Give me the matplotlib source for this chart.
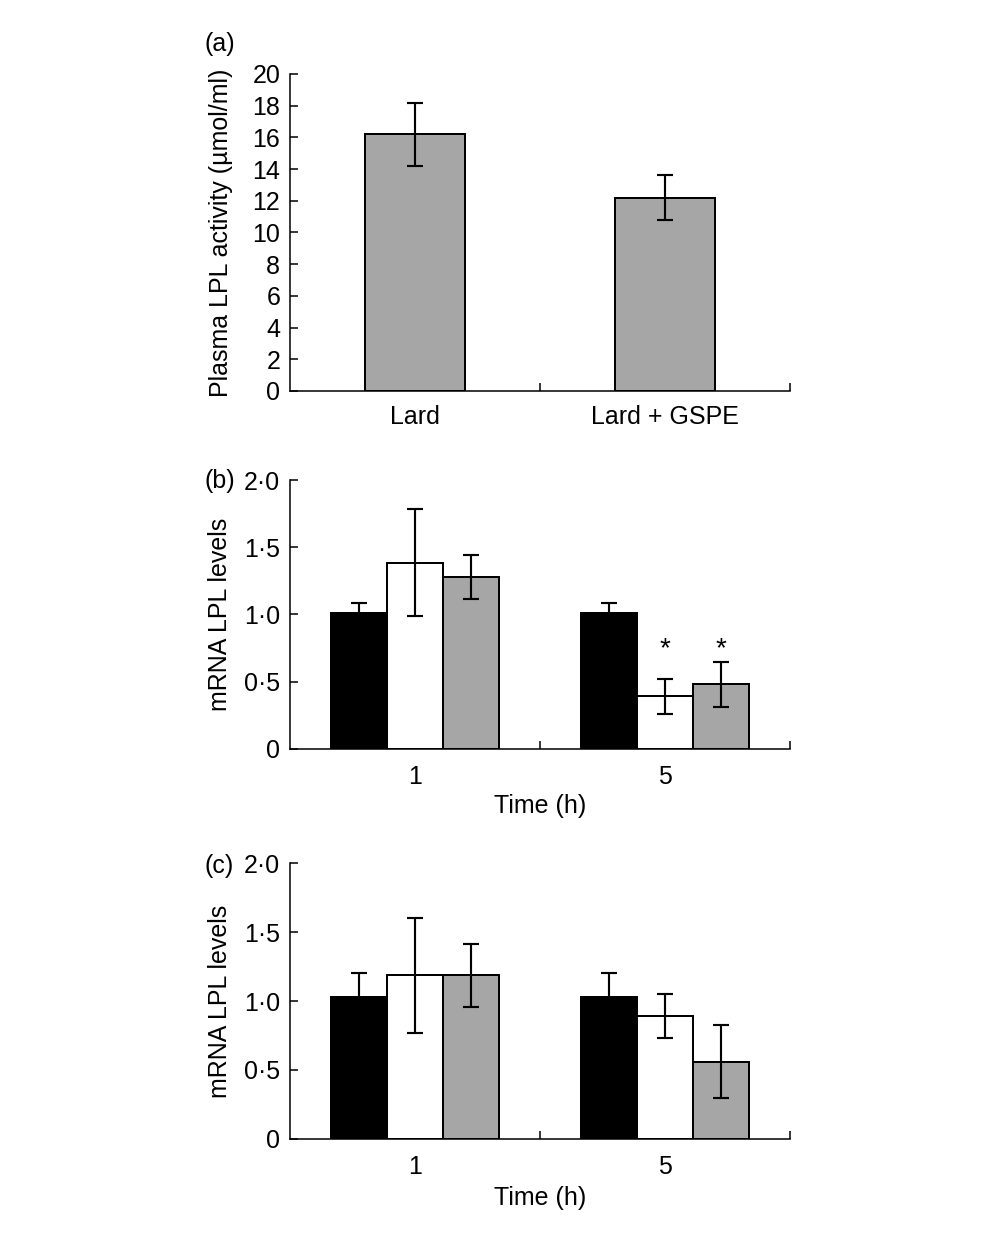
import matplotlib
matplotlib.use("Agg")
import matplotlib.pyplot as plt
import numpy as np

plt.rcParams['font.family'] = ['Liberation Sans', 'DejaVu Sans']

# Panel (a)
a_categories = ["Lard", "Lard + GSPE"]
a_values = [16.2, 12.2]
a_errors = [2.0, 1.4]
a_yticks = [0, 2, 4, 6, 8, 10, 12, 14, 16, 18, 20]

# Panels (b) and (c)
times = ["1", "5"]
mrna_yticks = [0, 0.5, 1.0, 1.5, 2.0]
mrna_yticklabels = ["0", "0·5", "1·0", "1·5", "2·0"]

b_black = [1.01, 1.01]
b_black_err = [0.075, 0.075]
b_white = [1.385, 0.39]
b_white_err = [0.40, 0.13]
b_gray = [1.28, 0.48]
b_gray_err = [0.165, 0.167]

c_black = [1.027, 1.027]
c_black_err = [0.176, 0.176]
c_white = [1.186, 0.889]
c_white_err = [0.42, 0.16]
c_gray = [1.186, 0.559]
c_gray_err = [0.23, 0.265]

FS = 18
LW = 1.1
GRAY = "#a6a6a6"

fig = plt.figure(figsize=(10, 12.37), dpi=100)
fig.patch.set_facecolor((1, 1, 1, 0))
W, H = 1000, 1237


def style_axes(ax):
    for s in ("top", "right"):
        ax.spines[s].set_visible(False)
    for s in ("left", "bottom"):
        ax.spines[s].set_linewidth(LW)
    ax.patch.set_alpha(0)
    ax.tick_params(axis="y", direction="in", length=6, width=LW, labelsize=FS, pad=7)
    ax.set_xlim(-0.5, 1.5)
    ax.set_xticks([0.5, 1.5])
    ax.set_xticklabels([])
    ax.tick_params(axis="x", direction="in", length=6, width=LW)
    return dict(elinewidth=LW * 1.4, capthick=LW * 1.4)


# ---------- (a)
axa = fig.add_axes([290 / W, 1 - 391 / H, 500 / W, 317 / H])
ekw = style_axes(axa)
xa = np.arange(len(a_categories))
axa.bar(xa, a_values, width=0.4, color=GRAY, edgecolor="black", linewidth=LW * 1.3,
        yerr=a_errors, capsize=5.5, error_kw=ekw, zorder=2)
axa.set_ylim(0, 20)
axa.set_yticks(a_yticks)
axa.set_yticklabels([str(t) for t in a_yticks])
for xi, lab in zip(xa, a_categories):
    axa.text(xi, -0.045, lab, transform=axa.get_xaxis_transform(), ha="center", va="top", fontsize=FS)
axa.set_ylabel("Plasma LPL activity (µmol/ml)", fontsize=FS)
axa.yaxis.set_label_coords((233 - 290) / 500, 0.5)
fig.text(205 / W, 1 - 44 / H, "(a)", fontsize=FS, ha="left", va="center")


def mrna_panel(rect, black, black_err, white, white_err, gray, gray_err, label, label_y, stars=None):
    ax = fig.add_axes(rect)
    ekw = style_axes(ax)
    x = np.arange(len(times))
    w = 0.224
    ax.bar(x - w, black, width=w, color="black", edgecolor="black", linewidth=LW * 1.3,
           yerr=black_err, capsize=5.5, error_kw=ekw, zorder=2)
    ax.bar(x, white, width=w, color="white", edgecolor="black", linewidth=LW * 1.3,
           yerr=white_err, capsize=5.5, error_kw=ekw, zorder=2)
    ax.bar(x + w, gray, width=w, color=GRAY, edgecolor="black", linewidth=LW * 1.3,
           yerr=gray_err, capsize=5.5, error_kw=ekw, zorder=2)
    ax.set_ylim(0, 2.0)
    ax.set_yticks(mrna_yticks)
    ax.set_yticklabels(mrna_yticklabels)
    for xi, lab in zip(x, times):
        ax.text(xi, -0.06, lab, transform=ax.get_xaxis_transform(), ha="center", va="top", fontsize=FS)
    ax.text(0.5, -0.17, "Time (h)", transform=ax.transAxes, ha="center", va="top", fontsize=FS)
    ax.set_ylabel("mRNA LPL levels", fontsize=FS)
    ax.yaxis.set_label_coords((232 - 290) / 500, 0.5)
    fig.text(205 / W, label_y, label, fontsize=FS, ha="left", va="center")
    if stars:
        for off, yv in stars:
            ax.text(1 + off * w, yv, "*", ha="center", va="center", fontsize=FS + 2)
    return ax


mrna_panel([290 / W, 1 - 748.7 / H, 500 / W, 268.7 / H],
           b_black, b_black_err, b_white, b_white_err, b_gray, b_gray_err,
           "(b)", 1 - 481 / H,
           stars=[(0, 0.74), (1, 0.74)])
mrna_panel([290 / W, 1 - 1138.7 / H, 500 / W, 275.4 / H],
           c_black, c_black_err, c_white, c_white_err, c_gray, c_gray_err,
           "(c)", 1 - 866 / H)

fig.savefig("out.png", dpi=100)
